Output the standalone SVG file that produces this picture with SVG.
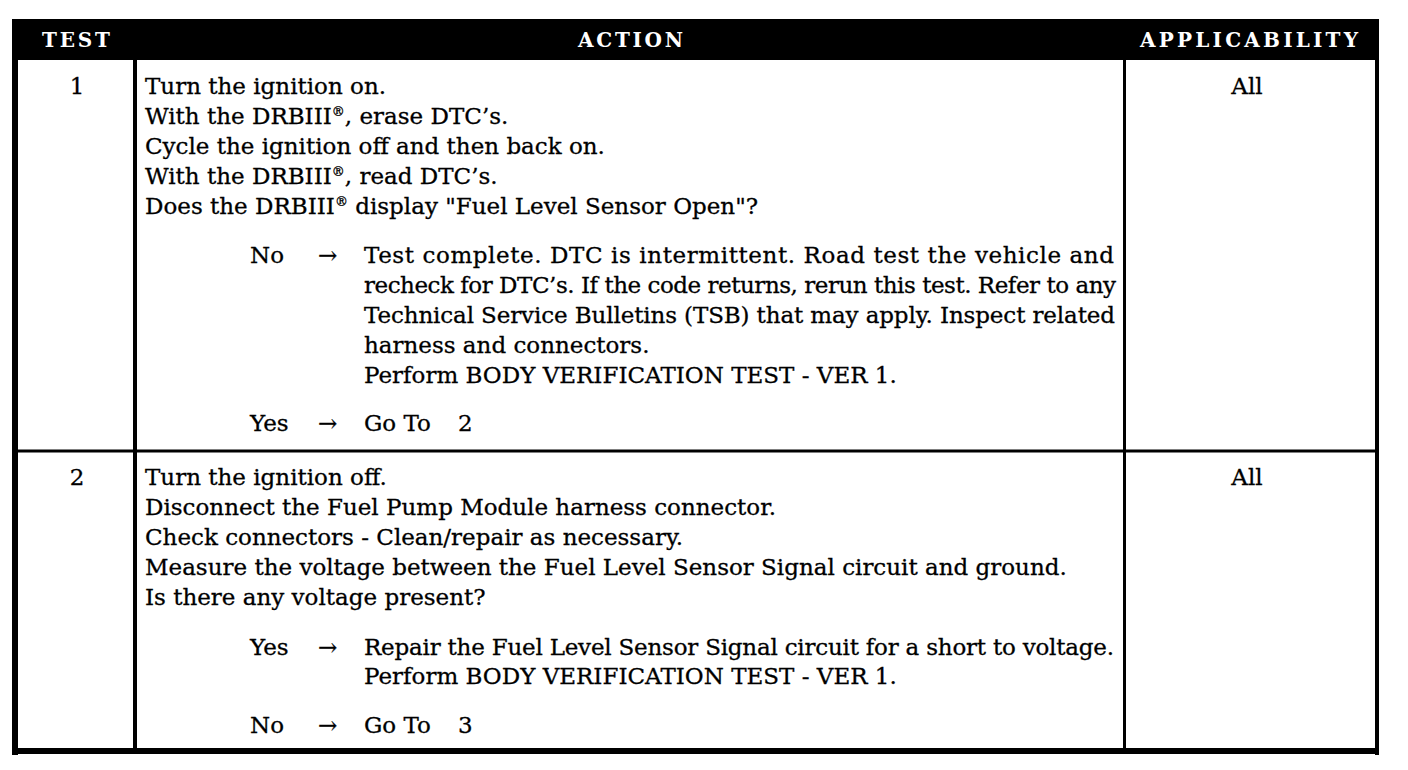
<svg xmlns="http://www.w3.org/2000/svg" width="1408" height="770" viewBox="0 0 1408 770">
<style>
.t{font-family:"DejaVu Serif","Liberation Serif",serif;font-size:23px;fill:#000;stroke:#000;stroke-width:0.3px}
.h{font-family:"DejaVu Serif","Liberation Serif",serif;font-size:20px;font-weight:bold;fill:#fff}
.c{text-anchor:middle}
.sup{font-size:13px}
.ln{fill:#000}
</style>
<rect width="1408" height="770" fill="#fff"/>
<g id="frame">
<rect class="ln" x="12" y="19" width="1367" height="41"/>
<rect class="ln" x="12" y="19" width="6" height="736"/>
<rect class="ln" x="1375" y="19" width="4" height="736"/>
<rect class="ln" x="12" y="748" width="1367" height="6"/>
<rect class="ln" x="133" y="60" width="4" height="690"/>
<rect class="ln" x="1123" y="60" width="3" height="690"/>
<rect class="ln" x="12" y="449.5" width="1367" height="3"/>
</g>
<g id="header">
<text class="h" x="42" y="47" textLength="68" lengthAdjust="spacing">TEST</text>
<text class="h" x="578" y="47" textLength="105" lengthAdjust="spacing">ACTION</text>
<text class="h" x="1140" y="47" textLength="218" lengthAdjust="spacing">APPLICABILITY</text>
</g>
<g id="test1">
<text class="t c" x="77" y="94">1</text>
<text class="t c" x="1247" y="94">All</text>
<text class="t" x="145" y="94">Turn the ignition on.</text>
<text class="t" x="145" y="124">With the DRBIII<tspan class="sup" dy="-8">®</tspan><tspan dy="8">, erase DTC’s.</tspan></text>
<text class="t" x="145" y="154">Cycle the ignition off and then back on.</text>
<text class="t" x="145" y="184">With the DRBIII<tspan class="sup" dy="-8">®</tspan><tspan dy="8">, read DTC’s.</tspan></text>
<text class="t" x="145" y="214">Does the DRBIII<tspan class="sup" dy="-8">®</tspan><tspan dy="8"> display "Fuel Level Sensor Open"?</tspan></text>
<text class="t" x="250" y="263">No</text>
<text class="t" x="318" y="263">→</text>
<text class="t" x="364" y="263" textLength="750" lengthAdjust="spacing">Test complete. DTC is intermittent. Road test the vehicle and</text>
<text class="t" x="364" y="293" textLength="752" lengthAdjust="spacing">recheck for DTC’s. If the code returns, rerun this test. Refer to any</text>
<text class="t" x="364" y="323" textLength="751" lengthAdjust="spacing">Technical Service Bulletins (TSB) that may apply. Inspect related</text>
<text class="t" x="364" y="353">harness and connectors.</text>
<text class="t" x="364" y="383">Perform BODY VERIFICATION TEST - VER 1.</text>
<text class="t" x="250" y="431">Yes</text>
<text class="t" x="318" y="431">→</text>
<text class="t" x="364" y="431">Go To</text>
<text class="t" x="458" y="431">2</text>
</g>
<g id="test2">
<text class="t c" x="77" y="485">2</text>
<text class="t c" x="1247" y="485">All</text>
<text class="t" x="145" y="485">Turn the ignition off.</text>
<text class="t" x="145" y="515">Disconnect the Fuel Pump Module harness connector.</text>
<text class="t" x="145" y="545">Check connectors - Clean/repair as necessary.</text>
<text class="t" x="145" y="575">Measure the voltage between the Fuel Level Sensor Signal circuit and ground.</text>
<text class="t" x="145" y="605">Is there any voltage present?</text>
<text class="t" x="250" y="655">Yes</text>
<text class="t" x="318" y="655">→</text>
<text class="t" x="364" y="655" textLength="750" lengthAdjust="spacing">Repair the Fuel Level Sensor Signal circuit for a short to voltage.</text>
<text class="t" x="364" y="684">Perform BODY VERIFICATION TEST - VER 1.</text>
<text class="t" x="250" y="733">No</text>
<text class="t" x="318" y="733">→</text>
<text class="t" x="364" y="733">Go To</text>
<text class="t" x="458" y="733">3</text>
</g>
</svg>
